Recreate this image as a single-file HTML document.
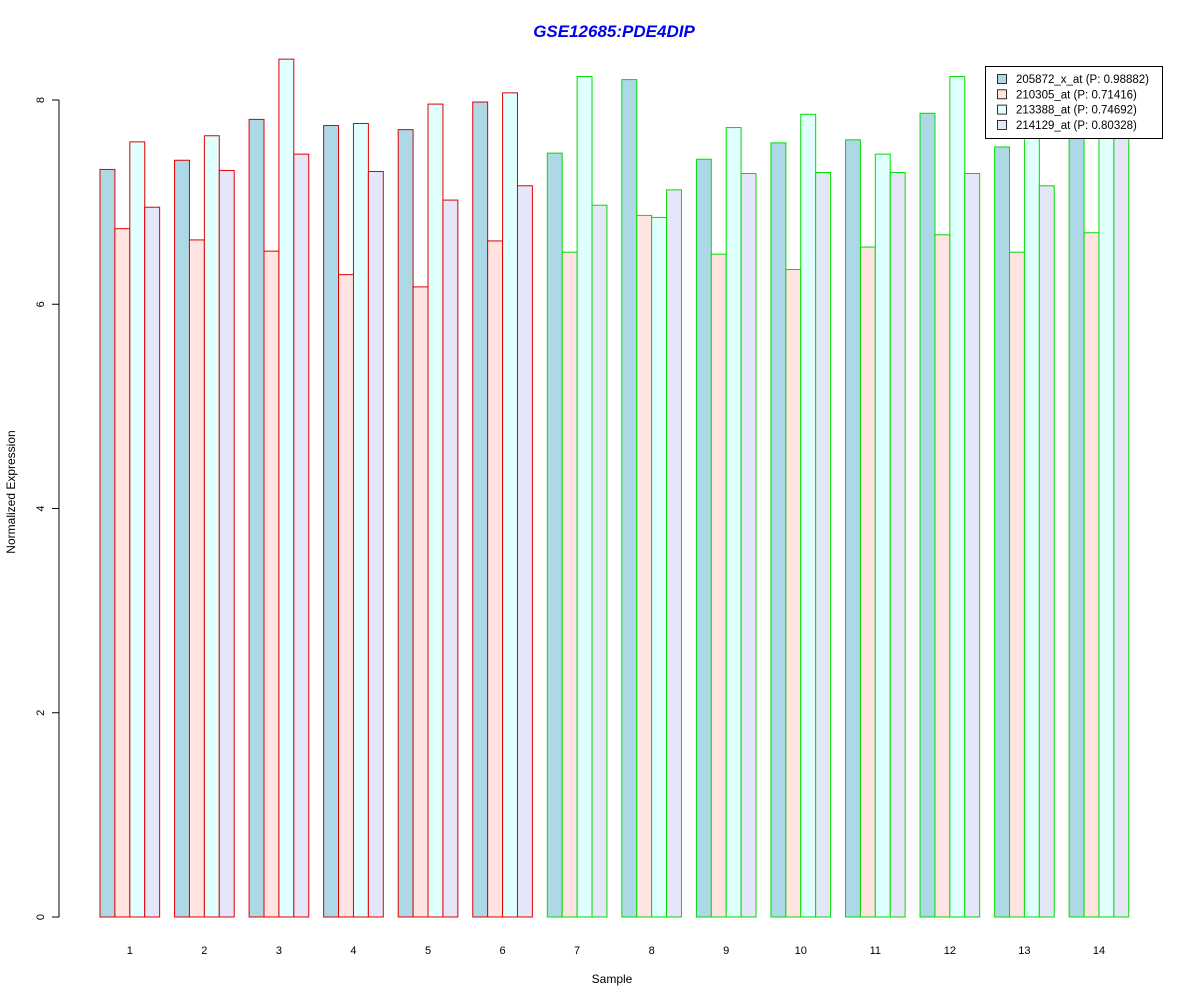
<!DOCTYPE html>
<html><head><meta charset="utf-8"><style>body{margin:0;background:#fff}svg{display:block;font-family:"Liberation Sans",Arial,sans-serif}</style></head>
<body>
<svg id="chart" width="1200" height="1000" xmlns="http://www.w3.org/2000/svg">
<rect width="1200" height="1000" fill="#fff"/>
<text x="614" y="37" text-anchor="middle" font-size="17" font-weight="bold" font-style="italic" fill="#0000ee">GSE12685:PDE4DIP</text>
<text x="612" y="983" text-anchor="middle" font-size="12">Sample</text>
<text transform="translate(15,492) rotate(-90)" text-anchor="middle" font-size="12">Normalized Expression</text>
<g id="bars"></g><g id="axes"></g><g id="legend"></g>
</svg>
<script>
const samples = ["1","2","3","4","5","6","7","8","9","10","11","12","13","14"];
const s205872 = [7.32,7.41,7.81,7.75,7.71,7.98,7.48,8.20,7.42,7.58,7.61,7.87,7.54,7.70];
const s210305 = [6.74,6.63,6.52,6.29,6.17,6.62,6.51,6.87,6.49,6.34,6.56,6.68,6.51,6.70];
const s213388 = [7.59,7.65,8.40,7.77,7.96,8.07,8.23,6.85,7.73,7.86,7.47,8.23,7.70,7.80];
const s214129 = [6.95,7.31,7.47,7.30,7.02,7.16,6.97,7.12,7.28,7.29,7.29,7.28,7.16,7.80];
const groupColor = ["red","red","red","red","red","red","green","green","green","green","green","green","green","green"];
const yTicks = [0,2,4,6,8];
const seriesNames = ["205872_x_at (P: 0.98882)","210305_at (P: 0.71416)","213388_at (P: 0.74692)","214129_at (P: 0.80328)"];
const series = [s205872,s210305,s213388,s214129];
const fills = ["#add8e6","#ffe4e1","#e0ffff","#e6e6fa"];
const borders = {red:"#e00000",green:"#00dd00"};
const NS="http://www.w3.org/2000/svg";
const y = v => 917 - v*102.125;
const unit = 14.91;
const x = u => 100 + u*unit;
function mk(t,a,p){const e=document.createElementNS(NS,t);for(const k in a)e.setAttribute(k,a[k]);p.appendChild(e);return e;}
const bars=document.getElementById('bars'), axes=document.getElementById('axes'), leg=document.getElementById('legend');
samples.forEach((s,i)=>{
  series.forEach((ser,j)=>{
    const r=mk('rect',{x:x(i*5+j),y:y(ser[i]),width:unit,height:y(0)-y(ser[i]),fill:fills[j],stroke:borders[groupColor[i]],'stroke-width':1},bars);
    
    
  });
  const t=mk('text',{x:x(i*5+2),y:954,'text-anchor':'middle','font-size':11},axes);
  t.textContent=s;
  
  
});
const ax=mk('line',{x1:59,x2:59,y1:y(8),y2:y(0),stroke:'#000'},axes);


yTicks.forEach(v=>{
  const l=mk('line',{x1:52,x2:59,y1:y(v),y2:y(v),stroke:'#000'},axes);
  
  
  const t=mk('text',{transform:`translate(44,${y(v)}) rotate(-90)`,'text-anchor':'middle','font-size':11},axes);
  t.textContent=v;
  
  
});
const box=mk('rect',{x:985.5,y:66.5,width:177,height:72,fill:'#fff',stroke:'#000'},leg);


seriesNames.forEach((n,j)=>{
  const cy=79+j*15.3;
  const sw=mk('rect',{x:997.5,y:cy-4.5,width:9,height:9,fill:fills[j],stroke:'#000','stroke-width':0.8},leg);
  
  
  const t=mk('text',{x:1016,y:cy+4,'font-size':11.5},leg);
  t.textContent=n;
  
  
});
</script>
</body></html>
